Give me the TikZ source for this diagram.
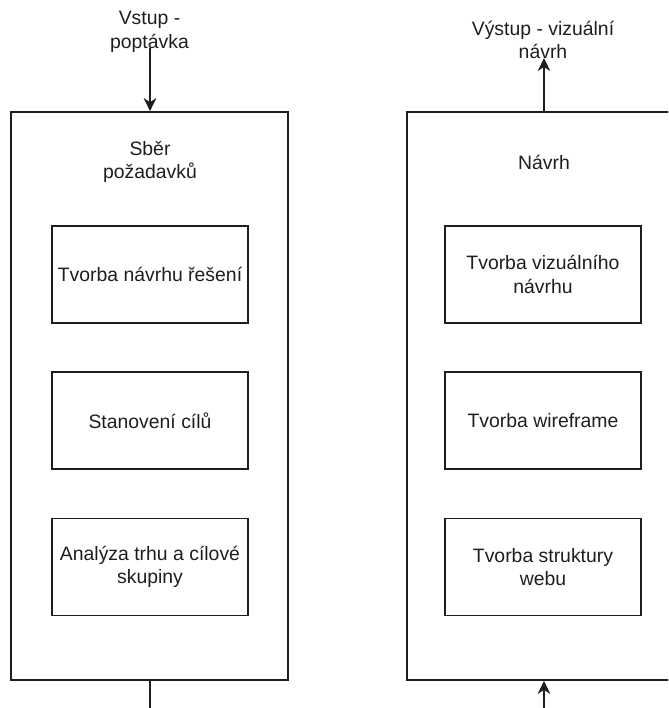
\documentclass[tikz,border=0pt]{standalone}
\usepackage{fontspec}
\setmainfont{Liberation Sans}
\usetikzlibrary{arrows.meta}
\definecolor{ink}{HTML}{1E1E1E}
\tikzset{
  frame/.style={draw=ink, line width=1.7pt, rectangle, minimum width=277pt, minimum height=568pt, inner sep=0pt},
  task/.style={draw=ink, line width=1.7pt, rectangle, minimum width=196pt, minimum height=97pt, inner sep=2pt, align=center, text=ink},
  caption/.style={align=center, text=ink, inner sep=0pt},
  flow/.style={draw=ink, line width=1.7pt},
  flowarrow/.style={flow, -{Stealth[length=13pt, width=12.5pt, inset=4pt]}}
}
\begin{document}
\begin{tikzpicture}[x=1pt, y=-1pt, font=\fontsize{19.4}{23.5}\selectfont]
  \useasboundingbox (0,0) rectangle (668,708);
  \clip (0,0) rectangle (668,708);

  % phase frames
  \node[frame] (left)  at (149.5,396) {};
  \node[frame] (right) at (545.5,396) {};

  % phase titles
  \node[caption] (leftTitle)  at (150,162) {Sběr\\požadavků};
  \node[caption] (rightTitle) at (544,162) {Návrh};

  % tasks of the first phase
  \node[task] (l1) at (150,274.5) {Tvorba návrhu řešení};
  \node[task] (l2) at (150,420.5) {Stanovení cílů};
  \node[task] (l3) at (150,567)   {Analýza trhu a cílové\\skupiny};

  % tasks of the second phase
  \node[task] (r1) at (543,274.5) {Tvorba vizuálního\\návrhu};
  \node[task] (r2) at (543,420.5) {Tvorba wireframe};
  \node[task] (r3) at (543,567)   {Tvorba struktury\\webu};

  % input and output labels
  \node[caption] (inLabel)  at (149.5,32) {Vstup -\\poptávka};
  \node[caption] (outLabel) at (543,40)   {Výstup - vizuální\\návrh};

  % connector end points
  \coordinate (inTop)    at (150,48);
  \coordinate (leftBot)  at (150,708);
  \coordinate (outTop)   at (544,58);
  \coordinate (rightBot) at (544,708);

  % connectors
  \draw[flowarrow] (inTop) -- (inTop |- left.north);
  \draw[flow] (leftBot |- left.south) -- (leftBot);
  \draw[flowarrow] (outTop |- right.north) -- (outTop);
  \draw[flowarrow] (rightBot) -- (rightBot |- right.south);
\end{tikzpicture}
\end{document}
